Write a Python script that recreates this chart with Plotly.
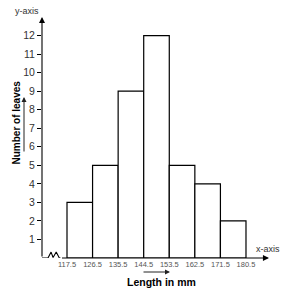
import plotly.graph_objects as go

# Data
bin_edges = [117.5, 126.5, 135.5, 144.5, 153.5, 162.5, 171.5, 180.5]
counts = [3, 5, 9, 12, 5, 4, 2]
edge_labels = ["117.5", "126.5", "135.5", "144.5", "153.5", "162.5", "171.5", "180.5"]
y_ticks = list(range(1, 13))

mids = [(a + b) / 2 for a, b in zip(bin_edges[:-1], bin_edges[1:])]
widths = [b - a for a, b in zip(bin_edges[:-1], bin_edges[1:])]

X0, X1 = 108.7, 188.6
Y1 = 13.0
FONT = "Arial, Liberation Sans, sans-serif"

fig = go.Figure()
fig.add_trace(go.Bar(
    x=mids, y=counts, width=widths,
    marker=dict(color="white", line=dict(color="black", width=1.2)),
    hoverinfo="skip",
))

# axis break zigzag near origin
zz_x = [X0, 110.8, 111.9, 112.6, 113.7, 114.8, 115.2]
zz_y = [0, 0, 0.32, 0.03, 0.32, 0, 0]
fig.add_trace(go.Scatter(x=zz_x, y=zz_y, mode="lines",
                         line=dict(color="black", width=1.1),
                         hoverinfo="skip", cliponaxis=False))

ann = []
# y axis with arrow
ann.append(dict(x=X0, y=Y1, ax=X0, ay=0, xref="x", yref="y", axref="x", ayref="y",
                showarrow=True, arrowhead=2, arrowsize=1.1, arrowwidth=1.1,
                arrowcolor="black", text=""))
# x axis with arrow
ann.append(dict(x=X1, y=0, ax=115.2, ay=0, xref="x", yref="y", axref="x", ayref="y",
                showarrow=True, arrowhead=2, arrowsize=1.1, arrowwidth=1.1,
                arrowcolor="black", text=""))

W, H = 227.0, 241.0
def px(xp):
    return (xp - 42) / W
def py(yp):
    return (258 - yp) / H

def label(x, y, text, size, color, angle=0):
    return dict(x=px(x), y=py(y), xref="paper", yref="paper", text=text,
                textangle=angle, xanchor="center", yanchor="middle",
                showarrow=False, font=dict(size=size, color=color, family=FONT))

ann.append(label(27, 11, "y-axis", 9, "#333"))
ann.append(label(268, 249, "x-axis", 9, "#333"))
ann.append(label(15.5, 123, "<b>Number of leaves</b>", 10, "black", -90))
ann.append(label(161, 282, "<b>Length in mm</b>", 10.5, "black"))
# label arrows (offsets in pixels)
ann.append(dict(x=px(24), y=py(97), ax=0, ay=56, xref="paper", yref="paper",
                axref="pixel", ayref="pixel", showarrow=True, arrowhead=2,
                arrowsize=1, arrowwidth=1, arrowcolor="#222", text=""))
ann.append(dict(x=px(170), y=py(272), ax=-28, ay=0, xref="paper", yref="paper",
                axref="pixel", ayref="pixel", showarrow=True, arrowhead=2,
                arrowsize=1, arrowwidth=1, arrowcolor="#222", text=""))

fig.update_layout(
    width=292, height=297,
    margin=dict(l=42, r=23, t=17, b=39),
    paper_bgcolor="white", plot_bgcolor="white",
    showlegend=False,
    annotations=ann,
    xaxis=dict(range=[X0, X1], tickvals=bin_edges, ticktext=edge_labels,
               showgrid=False, zeroline=False, showline=False, ticks="",
               tickfont=dict(size=7.5, color="#555", family=FONT)),
    yaxis=dict(range=[0, Y1], tickvals=y_ticks, showgrid=False, zeroline=False,
               showline=False, ticks="outside", ticklen=4, tickcolor="black",
               tickwidth=1, tickfont=dict(size=10.5, color="#333", family=FONT)),
)

fig.write_html("out.html")
